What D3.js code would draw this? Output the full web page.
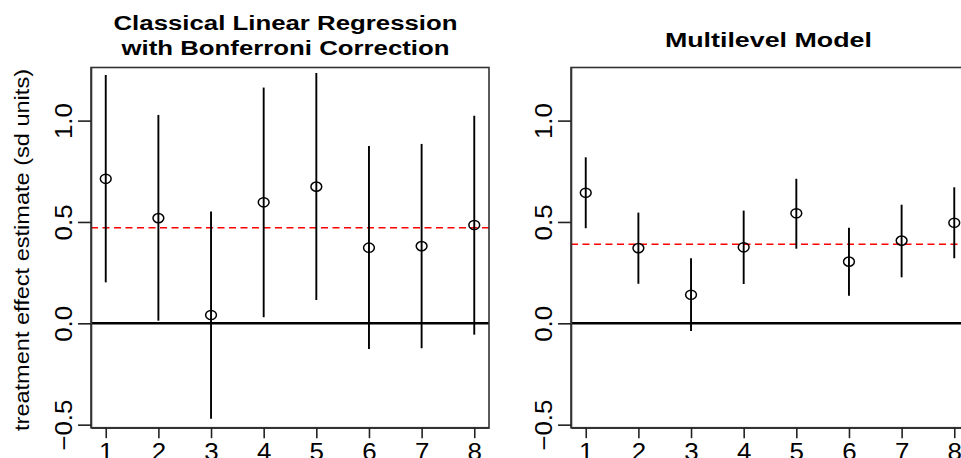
<!DOCTYPE html>
<html>
<head>
<meta charset="utf-8">
<script src="https://cdn.jsdelivr.net/npm/d3@7"></script>
<style>
  html, body { margin: 0; padding: 0; background: #fff; }
  svg { display: block; font-family: "Liberation Sans", Arial, Helvetica, sans-serif; }
</style>
</head>
<body>
<svg id="chart" width="961" height="458"></svg>
<script>
// ---- data ----
const schools = [1, 2, 3, 4, 5, 6, 7, 8];
const classicalEst = [0.713, 0.519, 0.041, 0.597, 0.674, 0.373, 0.381, 0.485];
const classicalLo  = [0.202, 0.013, -0.471, 0.030, 0.115, -0.127, -0.123, -0.056];
const classicalHi  = [1.225, 1.028, 0.551, 1.163, 1.235, 0.875, 0.885, 1.024];
const classicalMean = 0.472;
const multiEst = [0.644, 0.371, 0.141, 0.375, 0.543, 0.304, 0.408, 0.496];
const multiLo  = [0.469, 0.195, -0.038, 0.194, 0.368, 0.136, 0.227, 0.321];
const multiHi  = [0.819, 0.546, 0.321, 0.556, 0.713, 0.472, 0.585, 0.671];
const multiMean = 0.390;
const yTicks = [-0.5, 0.0, 0.5, 1.0];
const yLabel = "treatment effect estimate (sd units)";

// ---- layout ----
const svg = d3.select("#chart");
const plotTop = 67.5, plotBottom = 427.7;
const xDomain = [0.72, 8.28];
const yDomain = [-0.515, 1.262];
const kx = 1.08; // horizontal stretch of glyphs

const panels = [
  { left: 91, right: 489, title: ["Classical Linear Regression", "with Bonferroni Correction"],
    titleX: 285.5, titleY: [29.5, 54.5], titleLen: [344, 328],
    est: classicalEst, lo: classicalLo, hi: classicalHi, mean: classicalMean, yTitle: true },
  { left: 571, right: 969, title: ["Multilevel Model"],
    titleX: 768.4, titleY: [46.7], titleLen: [207],
    est: multiEst, lo: multiLo, hi: multiHi, mean: multiMean, yTitle: false }
];

const y = d3.scaleLinear().domain(yDomain).range([plotBottom, plotTop]);

panels.forEach(p => {
  const x = d3.scaleLinear().domain(xDomain).range([p.left, p.right]);
  const g = svg.append("g");

  // reference lines
  g.append("line")
    .attr("x1", p.left).attr("x2", p.right)
    .attr("y1", y(0)).attr("y2", y(0))
    .attr("stroke", "#000").attr("stroke-width", 2.4);
  g.append("line")
    .attr("x1", p.left).attr("x2", p.right)
    .attr("y1", y(p.mean)).attr("y2", y(p.mean))
    .attr("stroke", "#ff0000").attr("stroke-width", 1.5)
    .attr("stroke-dasharray", "7,4.5");

  // intervals
  g.selectAll(".bar").data(schools).enter().append("line")
    .attr("x1", d => x(d)).attr("x2", d => x(d))
    .attr("y1", (d, i) => y(p.lo[i])).attr("y2", (d, i) => y(p.hi[i]))
    .attr("stroke", "#000").attr("stroke-width", 1.9);

  // points
  g.selectAll(".pt").data(schools).enter().append("ellipse")
    .attr("cx", d => x(d)).attr("cy", (d, i) => y(p.est[i]))
    .attr("rx", 5.4).attr("ry", 4.6)
    .attr("fill", "none").attr("stroke", "#000").attr("stroke-width", 1.5);

  // box
  g.append("rect")
    .attr("x", p.left).attr("y", plotTop)
    .attr("width", p.right - p.left).attr("height", plotBottom - plotTop)
    .attr("fill", "none").attr("stroke", "#333").attr("stroke-width", 1.6);

  // x axis
  const xa = g.append("g").attr("transform", `translate(0,${plotBottom})`)
    .call(d3.axisBottom(x).tickValues(schools).tickSize(10.5).tickSizeOuter(0).tickFormat(d3.format("d")));
  xa.select(".domain").attr("stroke", "#333").attr("stroke-width", 1.6);
  xa.selectAll(".tick line").attr("stroke", "#222").attr("stroke-width", 1.6);
  xa.selectAll(".tick text")
    .attr("y", null).attr("dy", null)
    .attr("fill", "#000").attr("font-size", 24)
    .attr("text-anchor", "middle")
    .attr("transform", `translate(0,32.5) scale(${kx},1)`);

  // y axis
  const ya = g.append("g").attr("transform", `translate(${p.left},0)`)
    .call(d3.axisLeft(y).tickValues(yTicks).tickSize(13).tickSizeOuter(0).tickFormat(d3.format(".1f")));
  ya.select(".domain").attr("stroke", "#333").attr("stroke-width", 1.6);
  ya.selectAll(".tick line").attr("stroke", "#222").attr("stroke-width", 1.6);
  ya.selectAll(".tick text")
    .attr("x", null).attr("dy", null)
    .attr("fill", "#000").attr("font-size", 24)
    .attr("text-anchor", "middle")
    .attr("transform", `translate(-19,0) rotate(-90) scale(${kx},1)`);

  // title
  p.title.forEach((t, i) => {
    g.append("text")
      .attr("x", p.titleX).attr("y", p.titleY[i])
      .attr("text-anchor", "middle")
      .attr("font-size", 20).attr("font-weight", "bold")
      .attr("textLength", p.titleLen[i]).attr("lengthAdjust", "spacingAndGlyphs")
      .text(t);
  });

  if (p.yTitle) {
    g.append("text")
      .attr("transform", `translate(29,250) rotate(-90)`)
      .attr("text-anchor", "middle")
      .attr("font-size", 20)
      .attr("textLength", 362).attr("lengthAdjust", "spacingAndGlyphs")
      .text(yLabel);
  }
});
</script>
</body>
</html>
